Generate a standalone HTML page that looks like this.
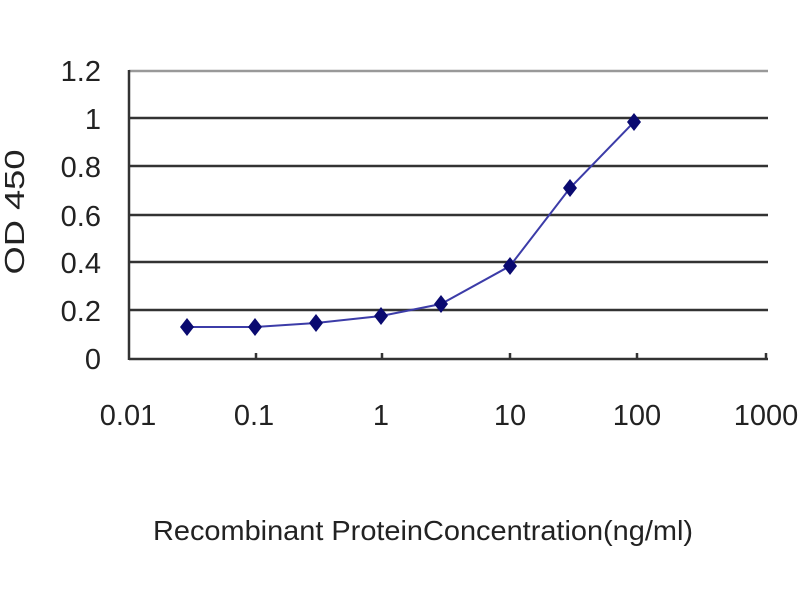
<!DOCTYPE html>
<html><head><style>body{margin:0;background:#fff}svg{display:block}</style></head><body>
<svg width="800" height="600" xmlns="http://www.w3.org/2000/svg" font-family="Liberation Sans, sans-serif">
<rect width="800" height="600" fill="#fff"/>
<g stroke="#333" stroke-width="2.5">
<line x1="129" y1="71" x2="768" y2="71" stroke="#999"/>
<line x1="129" y1="118" x2="768" y2="118"/>
<line x1="129" y1="166" x2="768" y2="166"/>
<line x1="129" y1="215" x2="768" y2="215"/>
<line x1="129" y1="262" x2="768" y2="262"/>
<line x1="129" y1="310" x2="768" y2="310"/>
<line x1="129" y1="359" x2="768" y2="359"/>
<line x1="129" y1="70" x2="129" y2="360"/>
<line x1="256" y1="353" x2="256" y2="359"/><line x1="382" y1="353" x2="382" y2="359"/><line x1="510" y1="353" x2="510" y2="359"/><line x1="637" y1="353" x2="637" y2="359"/><line x1="766" y1="353" x2="766" y2="359"/>
</g>
<g font-size="29" fill="#222" text-anchor="end">
<text x="101" y="81">1.2</text><text x="101" y="129">1</text><text x="101" y="177">0.8</text><text x="101" y="226">0.6</text><text x="101" y="273">0.4</text><text x="101" y="321">0.2</text><text x="101" y="369">0</text>
</g>
<g font-size="29" fill="#222" text-anchor="middle">
<text x="128" y="425">0.01</text><text x="254" y="425">0.1</text><text x="381" y="425">1</text><text x="510" y="425">10</text><text x="637" y="425">100</text><text x="766" y="425">1000</text>
<text x="423" y="540" font-size="28" textLength="540" lengthAdjust="spacingAndGlyphs">Recombinant ProteinConcentration(ng/ml)</text>
<text transform="translate(24,212) rotate(-90)" font-size="28" textLength="125" lengthAdjust="spacingAndGlyphs">OD 450</text>
</g>
<polyline fill="none" stroke="#3c3ca8" stroke-width="2" points="187,327 255,327 316,323 381,316 441,304 510,266 570,188 634,122"/>
<g fill="#0a0a70">
<path d="M187,318 l7,9 -7,9 -7,-9z"/><path d="M255,318 l7,9 -7,9 -7,-9z"/><path d="M316,314 l7,9 -7,9 -7,-9z"/><path d="M381,307 l7,9 -7,9 -7,-9z"/><path d="M441,295 l7,9 -7,9 -7,-9z"/><path d="M510,257 l7,9 -7,9 -7,-9z"/><path d="M570,179 l7,9 -7,9 -7,-9z"/><path d="M634,113 l7,9 -7,9 -7,-9z"/>
</g>
</svg>
</body></html>
